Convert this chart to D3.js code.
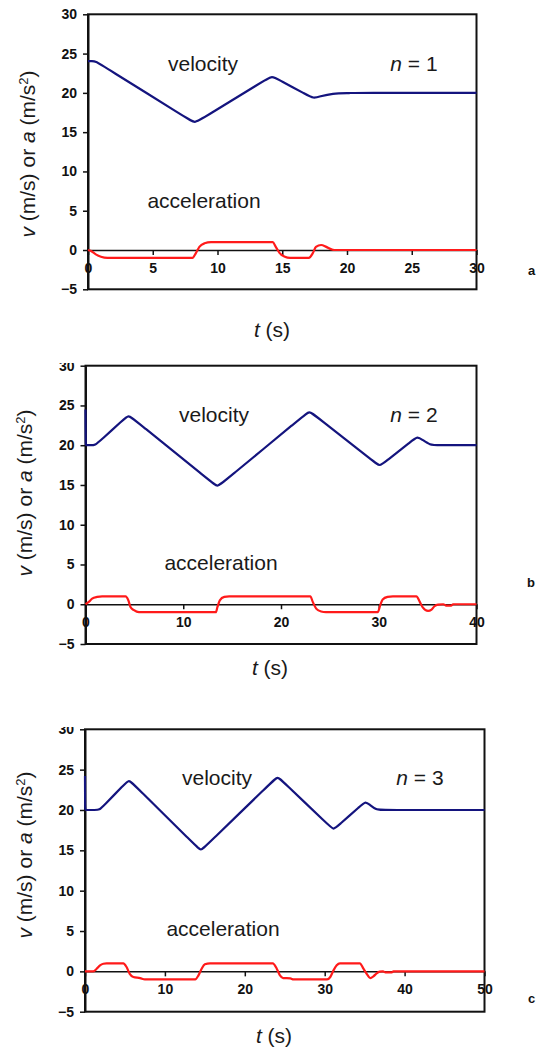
<!DOCTYPE html>
<html lang="en">
<head>
<meta charset="UTF-8">
<title>Velocity and acceleration, n = 1, 2, 3</title>
<script src="https://d3js.org/d3.v7.min.js"></script>
<style>
  body { margin: 0; background: #fff; }
  svg { display: block; font-family: "Liberation Sans", Arial, sans-serif; }
  .tick text { font-size: 14px; font-weight: bold; fill: #111; }
  .tick line, .domain { stroke: #111; }
  .lbl { font-size: 21px; fill: #1a1a1a; }
  .tag { font-size: 13px; font-weight: bold; fill: #111; }
</style>
</head>
<body>
<svg id="chart" width="537" height="1049"></svg>
<script>
// values, pairs of [t (s), value]
const yTicks = [-5, 0, 5, 10, 15, 20, 25, 30];
const xTicks1 = [0, 5, 10, 15, 20, 25, 30];
const xTicks2 = [0, 10, 20, 30, 40];
const xTicks3 = [0, 10, 20, 30, 40, 50];

// velocity: corner points plus a point either side, rounded by a B-spline
const velocity1 = [[0,24.05],[0.3,24.03],[0.6,24.0],[1.1,23.49],[7.75,16.66],[8.25,16.15],[8.75,16.65],
  [13.7,21.65],[14.2,22.15],[14.7,21.7],[16.9,19.75],[17.4,19.3],[17.9,19.53],[18.8,19.95],[20.4,19.97],
  [20.5,20.02],[30,20]];
const accel1 = [[0,0],[0.2,-0.1],[0.6,-0.55],[1.0,-0.85],[1.5,-1],[8.07,-1],[8.33,-0.4],[8.6,0.4],
  [9.0,0.85],[9.5,1],[14.26,1],[14.5,0.4],[14.8,-0.4],[15.2,-0.85],[15.6,-1],[17.05,-1],[17.36,-0.4],
  [17.6,0.4],[18.0,0.64],[18.4,0.4],[18.8,0.08],[19.0,0],[30,0]];

const velocity2 = [[0,24.5],[0.02,20],[0.05,20],[0.5,20],[1.0,20],[1.5,20.56],[3.9,23.24],[4.4,23.8],
  [4.9,23.3],[13.0,15.25],[13.5,14.75],[14.0,15.26],[22.4,23.79],[22.9,24.3],[23.4,23.82],[29.6,17.83],
  [30.1,17.35],[30.6,17.84],[33.45,20.61],[33.95,21.1],[34.45,20.7],[35.3,20.0],[35.8,20.0],[40,20]];
const accel2 = [[0,0],[0.34,0.3],[0.68,0.7],[1.2,0.92],[1.7,1],[4.1,1],[4.38,0.5],[4.6,-0.34],
  [4.96,-0.75],[5.47,-1],[13.33,-1],[13.5,-0.34],[13.74,0.5],[14.2,0.92],[14.7,1],[23.0,1],[23.25,0.3],
  [23.6,-0.55],[24.1,-0.92],[24.6,-1],[29.9,-1],[30.15,-0.13],[30.4,0.6],[30.9,0.92],[31.45,1],
  [33.85,1],[34.2,0.3],[34.5,-0.4],[35.04,-0.84],[35.4,-0.67],[35.7,-0.25],[36.07,-0.04],[36.6,0],
  [36.9,-0.17],[37.4,-0.17],[37.6,0],[40,0]];

const velocity3 = [[0,24.2],[0.02,20],[0.05,20],[1.3,20],[1.8,20],[2.3,20.5],[5.0,23.24],[5.5,23.75],
  [6.0,23.26],[14.0,15.44],[14.5,14.95],[15.0,15.43],[23.6,23.67],[24.1,24.15],[24.6,23.68],[30.6,18.02],
  [31.1,17.55],[31.6,17.99],[34.6,20.61],[35.1,21.05],[35.6,20.68],[36.5,20.0],[37.0,20.0],[50,20]];
const accel3 = [[0,0],[1.04,0],[1.46,0.33],[1.88,0.75],[2.3,0.95],[2.7,1],[4.8,1],[5.2,0.54],
  [5.6,-0.3],[6.05,-0.7],[6.9,-0.83],[7.5,-1],[13.8,-1],[14.2,-0.5],[14.6,0.33],[15.0,0.87],[15.65,1],
  [23.5,1],[24.0,0.33],[24.4,-0.5],[24.8,-0.83],[25.7,-0.87],[26.1,-1],[30.3,-1],[30.7,-0.7],
  [31.1,0.12],[31.5,0.75],[31.9,1],[34.4,1],[34.85,0.33],[35.3,-0.37],[35.7,-0.83],[36.1,-0.62],
  [36.5,-0.25],[36.9,-0.04],[37.3,0],[37.6,-0.12],[38.4,-0.12],[38.6,0],[50,0]];

const nValues = [1, 2, 3];
const tags = ["a", "b", "c"];

const panels = [
  { xMax: 30, xTicks: xTicks1, vel: velocity1, acc: accel1, l: 88, r: 476.5, t: 14.3, b: 289.3, clip: 0,
    velPos: [203, 71], accPos: [204, 207.5], nPos: [414, 71], tPos: [272, 337], yPos: [34.5, 154], tagPos: [528, 275] },
  { xMax: 40, xTicks: xTicks2, vel: velocity2, acc: accel2, l: 85.5, r: 476.5, t: 365.7, b: 644, clip: 363,
    velPos: [214, 421.5], accPos: [221, 570], nPos: [414, 421.5], tPos: [270, 675], yPos: [31.5, 493], tagPos: [527, 587] },
  { xMax: 50, xTicks: xTicks3, vel: velocity3, acc: accel3, l: 85, r: 484.5, t: 729.3, b: 1011.7, clip: 727,
    velPos: [217, 785], accPos: [223, 936], nPos: [420, 785], tPos: [274, 1043], yPos: [31.5, 855], tagPos: [528, 1003] }
];

const svg = d3.select("#chart");
const defs = svg.append("defs");

panels.forEach((p, i) => {
  // the top of panels b and c is cut in the source figure
  defs.append("clipPath").attr("id", "clip" + i)
    .append("rect").attr("x", 0).attr("y", p.clip).attr("width", 537).attr("height", 1049 - p.clip);

  const g = svg.append("g").attr("clip-path", `url(#clip${i})`);

  const x = d3.scaleLinear().domain([0, p.xMax]).range([p.l, p.r]);
  const y = d3.scaleLinear().domain([-5, 30]).range([p.b, p.t]);

  // frame
  g.append("rect")
    .attr("x", p.l).attr("y", p.t)
    .attr("width", p.r - p.l).attr("height", p.b - p.t)
    .attr("fill", "none").attr("stroke", "#111").attr("stroke-width", 2);

  // y axis
  g.append("g")
    .attr("transform", `translate(${p.l},0)`)
    .call(d3.axisLeft(y).tickValues(yTicks).tickSize(5).tickSizeOuter(0).tickPadding(6))
    .call(a => a.select(".domain").attr("stroke-width", 2))
    .call(a => a.selectAll(".tick line").attr("stroke-width", 1.5));

  // x axis along v = 0
  g.append("g")
    .attr("transform", `translate(0,${y(0)})`)
    .call(d3.axisBottom(x).tickValues(p.xTicks).tickSize(5).tickSizeOuter(0).tickPadding(8))
    .call(a => a.select(".domain").attr("stroke-width", 1.5))
    .call(a => a.selectAll(".tick line").attr("stroke-width", 1.5));

  const velLine = d3.line()
    .x(d => x(d[0]))
    .y(d => y(d[1]))
    .curve(d3.curveBasis);

  const accLine = d3.line()
    .x(d => x(d[0]))
    .y(d => y(d[1]))
    .curve(d3.curveMonotoneX);

  g.append("path").datum(p.vel)
    .attr("d", velLine)
    .attr("fill", "none").attr("stroke", "#14147e").attr("stroke-width", 2.2);

  g.append("path").datum(p.acc)
    .attr("d", accLine)
    .attr("fill", "none").attr("stroke", "#ff1a1a").attr("stroke-width", 2.2);

  // labels
  g.append("text").attr("class", "lbl").attr("text-anchor", "middle")
    .attr("x", p.velPos[0]).attr("y", p.velPos[1]).text("velocity");
  g.append("text").attr("class", "lbl").attr("text-anchor", "middle")
    .attr("x", p.accPos[0]).attr("y", p.accPos[1]).text("acceleration");

  const nt = g.append("text").attr("class", "lbl").attr("text-anchor", "middle")
    .attr("x", p.nPos[0]).attr("y", p.nPos[1]);
  nt.append("tspan").attr("font-style", "italic").text("n");
  nt.append("tspan").text(" = " + nValues[i]);

  const tt = g.append("text").attr("class", "lbl").attr("text-anchor", "middle")
    .attr("x", p.tPos[0]).attr("y", p.tPos[1]);
  tt.append("tspan").attr("font-style", "italic").text("t");
  tt.append("tspan").text(" (s)");

  const yt = g.append("text").attr("class", "lbl").attr("text-anchor", "middle")
    .attr("transform", `translate(${p.yPos[0]},${p.yPos[1]}) rotate(-90)`);
  yt.append("tspan").attr("font-style", "italic").text("v");
  yt.append("tspan").text(" (m/s) or ");
  yt.append("tspan").attr("font-style", "italic").text("a");
  yt.append("tspan").text(" (m/s");
  yt.append("tspan").attr("dy", -7).attr("font-size", "13px").text("2");
  yt.append("tspan").attr("dy", 7).text(")");

  g.append("text").attr("class", "tag")
    .attr("x", p.tagPos[0]).attr("y", p.tagPos[1]).text(tags[i]);
});
</script>
</body>
</html>
